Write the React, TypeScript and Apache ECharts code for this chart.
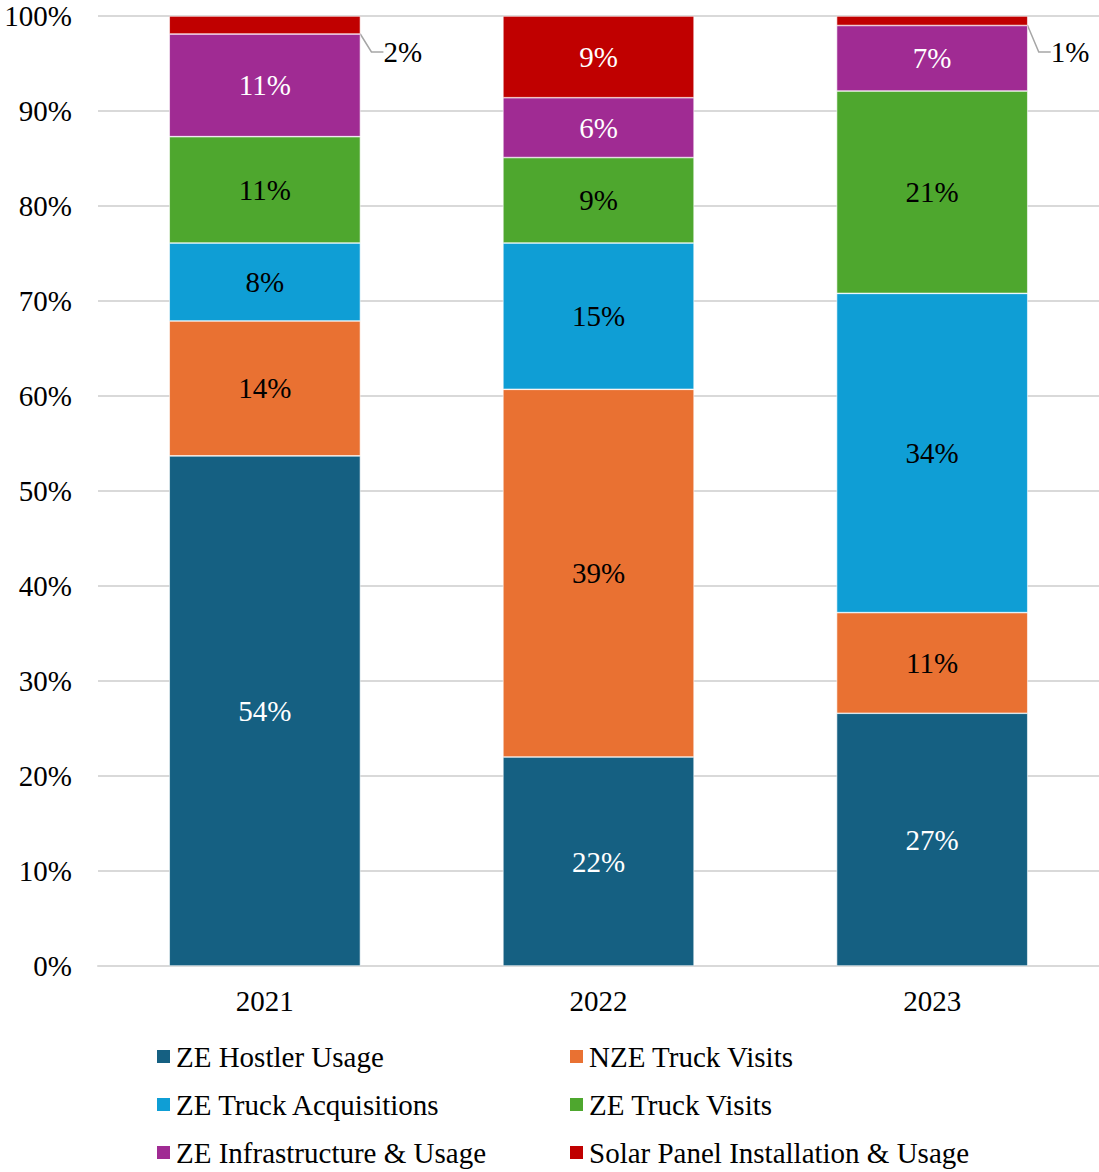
import React, { useEffect, useRef } from "react";
import * as echarts from "echarts";

const categories = ["2021", "2022", "2023"];
const seriesNames = [
  "ZE Hostler Usage",
  "NZE Truck Visits",
  "ZE Truck Acquisitions",
  "ZE Truck Visits",
  "ZE Infrastructure & Usage",
  "Solar Panel Installation & Usage",
];
const hostler = [53.7, 22.0, 26.6];
const nzeVisits = [14.2, 38.7, 10.6];
const acquisitions = [8.2, 15.4, 33.6];
const zeVisits = [11.2, 9.0, 21.3];
const infrastructure = [10.8, 6.3, 6.9];
const solar = [1.9, 8.6, 1.0];
const colors = ["#156082", "#E97132", "#0F9ED5", "#4EA72E", "#A02B93", "#C00000"];
const labelColors = ["#fff", "#000", "#000", "#000", "#fff", "#fff"];
const outsideLabelIdx = [0, 2]; // solar labels placed outside with leader line

const FONT = "'Liberation Serif', 'Times New Roman', serif";
const FS = 29;

export default function App() {
  const ref = useRef<HTMLDivElement>(null);
  useEffect(() => {
    if (!ref.current) return;
    const chart = echarts.init(ref.current, undefined, { renderer: "svg" });
    const all = [hostler, nzeVisits, acquisitions, zeVisits, infrastructure, solar];
    const series = all.map((vals, si) => {
      const isSolar = si === 5;
      return {
        name: seriesNames[si],
        type: "bar",
        stack: "total",
        barWidth: "57.3%",
        itemStyle: { color: colors[si], borderColor: "#ffffff", borderWidth: 0.6 },
        label: {
          show: true,
          position: "inside",
          fontFamily: FONT,
          fontSize: FS,
          color: labelColors[si],
          formatter: (p: any) => Math.round(p.value) + "%",
        },
        data: vals.map((v, di) => {
          if (isSolar && outsideLabelIdx.includes(di)) {
            return {
              value: v,
              label: { color: "#000" },
              labelLine: {
                show: true,
                length2: 12,
                lineStyle: { color: "#a6a6a6", width: 1.5 },
              },
            };
          }
          return v;
        }),
        labelLayout: isSolar
          ? (p: any) => {
              if (!outsideLabelIdx.includes(p.dataIndex)) return {};
              return {
                x: p.rect.x + p.rect.width + 23,
                y: p.rect.y + 36,
                align: "left",
                verticalAlign: "middle",
              };
            }
          : undefined,
      };
    });
    const legendBase = {
      orient: "vertical",
      top: 1042,
      padding: 0,
      itemWidth: 15,
      itemHeight: 15,
      itemGap: 19,
      icon: "rect",
      textStyle: { fontFamily: FONT, fontSize: FS, color: "#000", lineHeight: 29 },
    };
    chart.setOption({
      animation: false,
      textStyle: { fontFamily: FONT },
      grid: { left: 98, right: 0, top: 16, bottom: 206, containLabel: false },
      xAxis: {
        type: "category",
        data: categories,
        axisLine: { show: true, lineStyle: { color: "#d9d9d9", width: 2 } },
        axisTick: { show: false },
        axisLabel: { fontFamily: FONT, fontSize: FS, color: "#000", margin: 20 },
      },
      yAxis: {
        type: "value",
        min: 0,
        max: 100,
        interval: 10,
        axisLine: { show: false },
        axisTick: { show: false },
        splitLine: { lineStyle: { color: "#d9d9d9", width: 2 } },
        axisLabel: {
          fontFamily: FONT,
          fontSize: FS,
          color: "#000",
          margin: 26,
          formatter: "{value}%",
        },
      },
      legend: [
        { ...legendBase, left: 155, data: [seriesNames[0], seriesNames[2], seriesNames[4]] },
        { ...legendBase, left: 568, data: [seriesNames[1], seriesNames[3], seriesNames[5]] },
      ],
      series,
    });
    return () => chart.dispose();
  }, []);
  return (
    <div
      ref={ref}
      style={{ position: "fixed", left: 0, top: 0, width: 1099, height: 1172, background: "#fff" }}
    />
  );
}
